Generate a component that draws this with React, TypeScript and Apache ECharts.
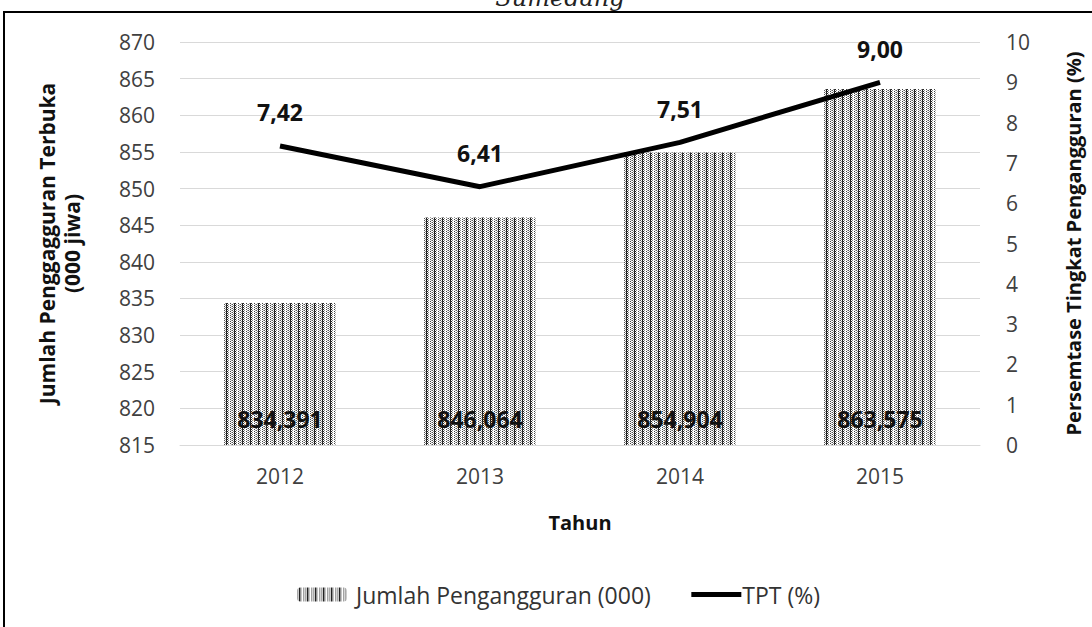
import React, { useEffect, useRef } from "react";
import * as echarts from "echarts";

const years = ["2012", "2013", "2014", "2015"];
const jumlah = [834.391, 846.064, 854.904, 863.575];
const tpt = [7.42, 6.41, 7.51, 9.0];
const leftTicks = { min: 815, max: 870, interval: 5 };
const rightTicks = { min: 0, max: 10, interval: 1 };

const FONT = "'Open Sans', sans-serif";

function makePattern(): string {
  const c = document.createElement("canvas");
  c.width = 8;
  c.height = 4;
  const ctx = c.getContext("2d")!;
  ctx.fillStyle = "#ffffff";
  ctx.fillRect(0, 0, 8, 4);
  const dot = (x: number, y: number, col: string) => {
    ctx.fillStyle = col;
    ctx.fillRect(x, y, 1, 1);
  };
  dot(0, 0, "#555"); dot(0, 2, "#555");
  dot(1, 1, "#999"); dot(1, 3, "#999");
  dot(2, 0, "#111"); dot(2, 1, "#333"); dot(2, 2, "#111"); dot(2, 3, "#333");
  dot(3, 1, "#222"); dot(3, 3, "#222");
  dot(4, 0, "#888"); dot(4, 2, "#888");
  dot(6, 1, "#444"); dot(6, 3, "#444");
  dot(7, 0, "#aaa"); dot(7, 2, "#aaa");
  return c.toDataURL();
}

const fmt = (v: number, d: number) => v.toFixed(d).replace(".", ",");

export default function App() {
  const ref = useRef<HTMLDivElement>(null);
  useEffect(() => {
    if (!ref.current) return;
    const chart = echarts.init(ref.current, undefined, { renderer: "svg" });
    const pattern = { image: makePattern(), repeat: "repeat" as const };
    chart.setOption({
      animation: false,
      backgroundColor: "#ffffff",
      textStyle: { fontFamily: FONT },
      graphic: [
        {
          type: "rect",
          shape: { x: 4, y: 12, width: 1300, height: 800 },
          style: { fill: "none", stroke: "#000", lineWidth: 2 },
          silent: true,
        },
        {
          type: "text",
          x: 560,
          y: 10,
          style: {
            text: "Sumedang",
            font: "italic 24px 'DejaVu Serif', serif",
            fill: "#222",
            align: "center",
            verticalAlign: "bottom",
          },
        },
      ],
      grid: { left: 180, right: 112, top: 42, bottom: 182 },
      legend: {
        bottom: 16,
        left: 292,
        itemWidth: 50,
        itemHeight: 14,
        itemGap: 38,
        textStyle: { fontSize: 23, color: "#333", fontFamily: FONT },
        data: [
          { name: "Jumlah Pengangguran (000)", textStyle: { padding: [0, 0, 0, 4] } },
          {
            name: "TPT (%)",
            itemStyle: { opacity: 0 },
            lineStyle: { width: 5, color: "#000" },
            textStyle: { padding: [0, 0, 0, -4] },
          },
        ],
      },
      xAxis: {
        type: "category",
        data: years,
        name: "Tahun",
        nameLocation: "middle",
        nameGap: 67,
        nameTextStyle: { fontSize: 20, fontWeight: "bold", color: "#111", fontFamily: FONT },
        axisLine: { lineStyle: { color: "#d9d9d9" } },
        axisTick: { show: false },
        axisLabel: { fontSize: 21, color: "#404040", margin: 20, fontFamily: FONT },
      },
      yAxis: [
        {
          type: "value",
          ...leftTicks,
          name: "Jumlah Penggagguran Terbuka\n(000 jiwa)",
          nameLocation: "middle",
          nameRotate: 90,
          nameGap: 96,
          nameTextStyle: { fontSize: 21, fontWeight: "bold", color: "#111", lineHeight: 25, fontFamily: FONT },
          axisLine: { show: false },
          axisTick: { show: false },
          axisLabel: { fontSize: 21, color: "#404040", margin: 25, fontFamily: FONT },
          splitLine: { lineStyle: { color: "#d9d9d9", width: 1 } },
        },
        {
          type: "value",
          ...rightTicks,
          position: "right",
          name: "Persemtase Tingkat Pengangguran (%)",
          nameLocation: "middle",
          nameRotate: 90,
          nameGap: 83,
          nameTextStyle: { fontSize: 20, fontWeight: "bold", color: "#111", fontFamily: FONT },
          axisLine: { show: false },
          axisTick: { show: false },
          axisLabel: { fontSize: 21, color: "#404040", margin: 26, fontFamily: FONT },
          splitLine: { show: false },
        },
      ],
      series: [
        {
          name: "Jumlah Pengangguran (000)",
          type: "bar",
          yAxisIndex: 0,
          data: jumlah,
          barWidth: 112,
          itemStyle: { color: pattern },
          label: {
            show: true,
            position: "insideBottom",
            distance: 15,
            fontSize: 23,
            fontWeight: "bold",
            color: "#111",
            fontFamily: FONT,
            formatter: (p: any) => fmt(p.value, 3),
          },
          z: 1,
        },
        {
          name: "TPT (%)",
          type: "line",
          yAxisIndex: 1,
          data: tpt,
          symbol: "circle",
          symbolSize: 0.1,
          showSymbol: true,
          lineStyle: { color: "#000", width: 5 },
          itemStyle: { color: "#000" },
          label: {
            show: true,
            position: "top",
            distance: 22,
            fontSize: 23,
            fontWeight: "bold",
            color: "#111",
            fontFamily: FONT,
            formatter: (p: any) => fmt(p.value, 2),
          },
          z: 3,
        },
      ],
    });
    return () => chart.dispose();
  }, []);
  return (
    <div
      ref={ref}
      style={{ position: "absolute", left: 0, top: 0, width: 1092, height: 627 }}
    />
  );
}
